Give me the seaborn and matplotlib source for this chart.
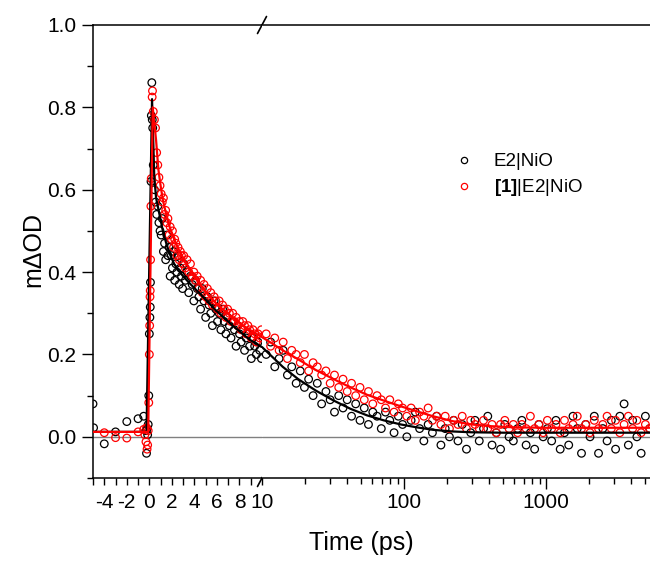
import numpy as np
import pandas as pd
import matplotlib
matplotlib.use("Agg")
import matplotlib.pyplot as plt
import seaborn as sns

# ---------------- data ----------------
# E2|NiO (black) scatter
black_t = [-5.0, -4.95, -4.0, -3.0, -2.0, -1.0, -0.5,
           -0.3, -0.25, -0.2, -0.15, -0.1, -0.05, 0.0, 0.05, 0.08, 0.1, 0.15, 0.18, 0.22, 0.26, 0.3,
           0.35, 0.45, 0.55, 0.65, 0.75, 0.85, 0.95, 1.05, 1.15, 1.25, 1.35, 1.45, 1.55, 1.65, 1.75,
           1.85, 1.95, 2.05, 2.15, 2.25, 2.35, 2.45, 2.55, 2.65, 2.75, 2.85, 2.95, 3.05, 3.2, 3.35,
           3.5, 3.65, 3.8, 3.95, 4.1, 4.25, 4.4, 4.55, 4.7, 4.85, 5.0, 5.15, 5.3, 5.45, 5.6, 5.75,
           5.9, 6.05, 6.2, 6.35, 6.5, 6.65, 6.8, 6.95, 7.1, 7.25, 7.4, 7.55, 7.7, 7.85, 8.0, 8.15,
           8.3, 8.45, 8.6, 8.75, 8.9, 9.05, 9.2, 9.35, 9.5, 9.65, 9.8, 9.95,
           10.7, 11.5, 12.3, 13.2, 14.1, 15.1, 16.2, 17.4, 18.6, 19.9, 21.3, 22.9, 24.5, 26.3, 28.2,
           30.2, 32.4, 34.7, 37.2, 39.8, 42.7, 45.7, 49.0, 52.5, 56.2, 60.3, 64.6, 69.2, 74.1, 79.4,
           85.1, 91.2, 97.7, 104.7, 112.2, 120.2, 128.8, 138.0, 147.9, 158.5, 169.8, 182.0, 195.0,
           208.9, 223.9, 239.9, 257.0, 275.4, 295.1, 316.2, 338.8, 363.1, 389.0, 416.9, 446.7, 478.6,
           512.9, 549.5, 588.8, 631.0, 676.1, 724.4, 776.2, 831.8, 891.3, 955.0, 1023, 1096, 1175,
           1259, 1349, 1445, 1549, 1660, 1778, 1905, 2042, 2188, 2344, 2512, 2692, 2884, 3090, 3311,
           3548, 3802, 4074, 4365, 4677, 5012, 5370]
black_y = [0.080, 0.022, -0.017, 0.012, 0.037, 0.044, 0.050,
           0.015, -0.040, 0.020, 0.005, 0.030, 0.100, 0.250, 0.290, 0.315, 0.375, 0.620, 0.780, 0.860, 0.770, 0.750,
           0.66, 0.60, 0.57, 0.54, 0.56, 0.52, 0.50, 0.49, 0.53, 0.45, 0.47, 0.43, 0.49, 0.44, 0.46,
           0.39, 0.44, 0.41, 0.45, 0.38, 0.42, 0.40, 0.44, 0.37, 0.41, 0.39, 0.36, 0.42, 0.38, 0.40,
           0.35, 0.39, 0.37, 0.33, 0.38, 0.36, 0.34, 0.31, 0.36, 0.33, 0.29, 0.34, 0.32, 0.30, 0.27, 0.33,
           0.31, 0.28, 0.30, 0.26, 0.31, 0.28, 0.25, 0.29, 0.27, 0.24, 0.28, 0.26, 0.22, 0.27, 0.25, 0.23,
           0.26, 0.21, 0.24, 0.25, 0.22, 0.19, 0.24, 0.22, 0.20, 0.23, 0.21, 0.19,
           0.20, 0.23, 0.17, 0.19, 0.21, 0.15, 0.17, 0.13, 0.16, 0.12, 0.14, 0.10, 0.13, 0.08, 0.11,
           0.09, 0.06, 0.10, 0.07, 0.09, 0.05, 0.08, 0.04, 0.07, 0.03, 0.06, 0.05, 0.02, 0.06, 0.04,
           0.01, 0.05, 0.03, 0.00, 0.04, 0.06, 0.02, -0.01, 0.03, 0.01, 0.05, -0.02, 0.02,
           0.00, 0.04, -0.01, 0.03, -0.03, 0.01, 0.04, -0.01, 0.02, 0.05, -0.02, 0.01, -0.03,
           0.03, 0.00, -0.01, 0.02, 0.04, -0.02, 0.01, -0.03, 0.03, 0.00, 0.02, -0.01, 0.04,
           -0.03, 0.01, -0.02, 0.05, 0.02, -0.04, 0.03, 0.00, 0.05, -0.04, 0.02, -0.01, 0.04, -0.03, 0.05,
           0.08, -0.02, 0.04, 0.00, -0.04, 0.05, 0.02]

# [1]|E2|NiO (red) scatter
red_t = [-4.0, -3.0, -2.0, -1.0, -0.5, -0.4, -0.3, -0.25, -0.2, -0.15, -0.1,
         -0.05, 0.0, 0.03, 0.06, 0.08, 0.11, 0.14, 0.17, 0.25, 0.28, 0.35, 0.45,
         0.55, 0.65, 0.75, 0.85, 0.95, 1.05, 1.15, 1.25, 1.35, 1.45, 1.55, 1.65, 1.75, 1.85, 1.95,
         2.05, 2.15, 2.25, 2.35, 2.45, 2.55, 2.65, 2.75, 2.85, 2.95, 3.05, 3.2, 3.35, 3.5, 3.65,
         3.8, 3.95, 4.1, 4.25, 4.4, 4.55, 4.7, 4.85, 5.0, 5.15, 5.3, 5.45, 5.6, 5.75, 5.9, 6.05,
         6.2, 6.35, 6.5, 6.65, 6.8, 6.95, 7.1, 7.25, 7.4, 7.55, 7.7, 7.85, 8.0, 8.15, 8.3, 8.45,
         8.6, 8.75, 8.9, 9.05, 9.2, 9.35, 9.5, 9.65, 9.8, 9.95,
         10.7, 11.5, 12.3, 13.2, 14.1, 15.1, 16.2, 17.4, 18.6, 19.9, 21.3, 22.9, 24.5, 26.3, 28.2,
         30.2, 32.4, 34.7, 37.2, 39.8, 42.7, 45.7, 49.0, 52.5, 56.2, 60.3, 64.6, 69.2, 74.1, 79.4,
         85.1, 91.2, 97.7, 104.7, 112.2, 120.2, 128.8, 138.0, 147.9, 158.5, 169.8, 182.0, 195.0,
         208.9, 223.9, 239.9, 257.0, 275.4, 295.1, 316.2, 338.8, 363.1, 389.0, 416.9, 446.7, 478.6,
         512.9, 549.5, 588.8, 631.0, 676.1, 724.4, 776.2, 831.8, 891.3, 955.0, 1023, 1096, 1175,
         1259, 1349, 1445, 1549, 1660, 1778, 1905, 2042, 2188, 2344, 2512, 2692, 2884, 3090, 3311,
         3548, 3802, 4074, 4365, 4677, 5012, 5370]
red_y = [0.010, -0.002, -0.003, 0.012, 0.018, 0.005, -0.012, 0.022, -0.030, -0.020, 0.015,
         0.083, 0.200, 0.270, 0.340, 0.355, 0.430, 0.560, 0.627, 0.825, 0.840, 0.790, 0.770,
         0.75, 0.69, 0.66, 0.63, 0.61, 0.59, 0.57, 0.58, 0.54, 0.55, 0.52, 0.53, 0.49, 0.51, 0.48,
         0.50, 0.46, 0.48, 0.47, 0.44, 0.46, 0.43, 0.45, 0.44, 0.42, 0.44, 0.41, 0.43, 0.40, 0.42,
         0.39, 0.40, 0.38, 0.39, 0.36, 0.38, 0.35, 0.37, 0.34, 0.36, 0.33, 0.35, 0.32, 0.34, 0.33, 0.31,
         0.33, 0.30, 0.32, 0.31, 0.29, 0.31, 0.30, 0.28, 0.30, 0.28, 0.29, 0.27, 0.28, 0.26, 0.28, 0.27,
         0.25, 0.27, 0.26, 0.24, 0.26, 0.25, 0.23, 0.25, 0.24, 0.26,
         0.25, 0.22, 0.24, 0.21, 0.23, 0.19, 0.21, 0.20, 0.18, 0.20, 0.16, 0.18, 0.17, 0.15, 0.16,
         0.13, 0.15, 0.12, 0.14, 0.11, 0.13, 0.10, 0.12, 0.09, 0.11, 0.08, 0.10, 0.09, 0.07, 0.09,
         0.06, 0.08, 0.07, 0.05, 0.07, 0.04, 0.06, 0.05, 0.07, 0.04, 0.05, 0.03, 0.05,
         0.02, 0.04, 0.03, 0.05, 0.02, 0.04, 0.03, 0.02, 0.04, 0.02, 0.03, 0.01, 0.03,
         0.04, 0.02, 0.03, 0.01, 0.03, 0.02, 0.05, 0.02, 0.03, 0.01, 0.04, 0.02, 0.03,
         0.01, 0.04, 0.02, 0.03, 0.05, 0.02, 0.03, 0.01, 0.04, 0.02, 0.03, 0.05, 0.02, 0.04, 0.01,
         0.03, 0.05, 0.02, 0.04, 0.01, 0.03, 0.02]

# fitted curves
black_fit_t = [-5, -0.25, 0.24, 0.44, 0.6, 0.9, 1.2, 1.5, 1.8, 2.2, 2.7, 3.0, 3.5, 4.4, 5.0, 5.9,
               7.4, 8.9, 10, 12, 14, 18, 24, 32, 42, 55, 72, 95, 123, 160, 220, 300, 500, 1000,
               2000, 5400]
black_fit_y = [0.012, 0.012, 0.82, 0.63, 0.58, 0.54, 0.50, 0.47, 0.445, 0.42, 0.40, 0.39, 0.375,
               0.35, 0.333, 0.307, 0.27, 0.236, 0.218, 0.192, 0.17, 0.14, 0.112, 0.088, 0.068,
               0.052, 0.04, 0.03, 0.023, 0.017, 0.013, 0.011, 0.010, 0.010, 0.010, 0.010]
red_fit_t = [-5, -0.1, 0.3, 0.6, 0.8, 1.0, 1.2, 1.5, 1.8, 2.2, 2.6, 3.0, 3.5, 4.0, 4.4, 5.0, 5.9,
             6.5, 7.4, 8.0, 8.9, 10, 12, 14, 18, 24, 32, 42, 55, 72, 95, 123, 160, 220, 300, 400,
             600, 1000, 2000, 5400]
red_fit_y = [0.012, 0.012, 0.80, 0.72, 0.65, 0.61, 0.575, 0.54, 0.51, 0.48, 0.455, 0.435, 0.41,
             0.39, 0.375, 0.352, 0.325, 0.31, 0.29, 0.276, 0.26, 0.242, 0.225, 0.21, 0.188, 0.162,
             0.14, 0.12, 0.102, 0.088, 0.074, 0.062, 0.05, 0.038, 0.03, 0.026, 0.023, 0.022,
             0.022, 0.022]

series_labels = ["E2|NiO", r"$\mathbf{[1]}$|E2|NiO"]
lin_ticks = [-4, -2, 0, 2, 4, 6, 8, 10]
log_ticks = [100, 1000]
log_ticklabels = ["100", "1000"]
y_ticks = [0.0, 0.2, 0.4, 0.6, 0.8, 1.0]

# ---------------- style ----------------
sns.set_style("ticks")
plt.rcParams["font.family"] = ["Liberation Sans", "DejaVu Sans"]
plt.rcParams["mathtext.fontset"] = "custom"
plt.rcParams["mathtext.rm"] = "Liberation Sans"
plt.rcParams["mathtext.bf"] = "Liberation Sans:bold"
plt.rcParams["axes.linewidth"] = 1.1
plt.rcParams["axes.edgecolor"] = "black"
plt.rcParams["xtick.color"] = "black"
plt.rcParams["ytick.color"] = "black"
plt.rcParams["text.color"] = "black"
plt.rcParams["axes.labelcolor"] = "black"

W, H = 650, 561
fig = plt.figure(figsize=(6.5, 5.61), dpi=100)
x0, xb, x1 = 93, 262, 650
ytop, ybot = 25, 478
ax1 = fig.add_axes([x0 / W, (H - ybot) / H, (xb - x0) / W, (ybot - ytop) / H])
ax2 = fig.add_axes([xb / W, (H - ybot) / H, (x1 - xb) / W, (ybot - ytop) / H])

sc = pd.DataFrame({"t": black_t + red_t,
                   "y": black_y + red_y,
                   "s": [series_labels[0]] * len(black_t) + [series_labels[1]] * len(red_t)})
fit = pd.DataFrame({"t": black_fit_t + red_fit_t,
                    "y": black_fit_y + red_fit_y,
                    "s": [series_labels[0]] * len(black_fit_t) + [series_labels[1]] * len(red_fit_t)})
pal = {series_labels[0]: "black", series_labels[1]: "#ff0000"}

for ax, lo, hi in [(ax1, -6, 10), (ax2, 10, 1e5)]:
    ax.axhline(0, color="#808080", lw=1.0, zorder=1)
    for lab in series_labels:
        d = sc[(sc.s == lab) & (sc.t >= lo) & (sc.t < hi)]
        sns.scatterplot(data=d, x="t", y="y", ax=ax, marker="o", s=30,
                        facecolor="none", edgecolor=pal[lab], linewidth=0.9,
                        label=lab, legend=False, zorder=2)
    for lab in series_labels:
        d = fit[(fit.s == lab) & (fit.t >= lo) & (fit.t <= hi)]
        sns.lineplot(data=d, x="t", y="y", ax=ax, color=pal[lab], lw=1.6,
                     estimator=None, sort=False, legend=False, zorder=3)
    ax.set_ylim(-0.1, 1.0)
    ax.set_xlabel("")
    ax.set_ylabel("")

# linear part
ax1.set_xlim(-5, 10)
ax1.set_xticks(lin_ticks)
ax1.set_xticklabels([str(v) for v in lin_ticks])
ax1.set_xticks(np.arange(-5, 10, 1), minor=True)
ax1.set_yticks(y_ticks)
ax1.set_yticklabels([f"{v:.1f}" for v in y_ticks])
ax1.set_yticks(np.arange(-0.1, 1.0, 0.2), minor=True)
ax1.spines["right"].set_visible(False)
ax1.tick_params(axis="x", which="both", length=5, width=1.0, direction="out", labelsize=15, pad=6)
ax1.tick_params(axis="y", which="major", length=8, width=1.0, direction="out", labelsize=15, pad=4)
ax1.tick_params(axis="y", which="minor", length=4, width=1.0, direction="out")

# log part
ax2.set_xscale("log")
ax2.set_xlim(10, 5400)
ax2.set_xticks(log_ticks)
ax2.set_xticklabels(log_ticklabels)
ax2.xaxis.set_minor_locator(matplotlib.ticker.LogLocator(base=10, subs=np.arange(2, 10)))
ax2.xaxis.set_minor_formatter(matplotlib.ticker.NullFormatter())
ax2.spines["left"].set_visible(False)
ax2.spines["right"].set_visible(False)
ax2.set_yticks([])
ax2.tick_params(axis="x", which="major", length=8, width=1.0, direction="out", labelsize=15, pad=3)
ax2.tick_params(axis="x", which="minor", length=4, width=1.0, direction="out")

# break marks
dx, dy = 4.5 / (xb - x0), 8.5 / (ybot - ytop)
for yy in (0, 1):
    ax1.plot([1 - dx, 1 + dx], [yy - dy, yy + dy], transform=ax1.transAxes,
             color="black", lw=1.2, clip_on=False, zorder=5)

# labels
fig.text(361 / W, 1 - 543 / H, "Time (ps)", ha="center", va="center", fontsize=18)
fig.text(33 / W, 1 - 250 / H, "m\u0394OD", ha="center", va="center", rotation=90, fontsize=18)

# legend
handles = [matplotlib.lines.Line2D([], [], ls="none", marker="o", markersize=4.5,
                                   markerfacecolor="none", markeredgecolor=pal[l],
                                   markeredgewidth=0.9) for l in series_labels]
fig.legend(handles, series_labels, loc="upper left", bbox_to_anchor=(443 / W, 1 - 144 / H),
           frameon=False, fontsize=13.5, handletextpad=1.0, labelspacing=0.35,
           handlelength=1.2, borderpad=0)

fig.savefig("out.png", dpi=100)
